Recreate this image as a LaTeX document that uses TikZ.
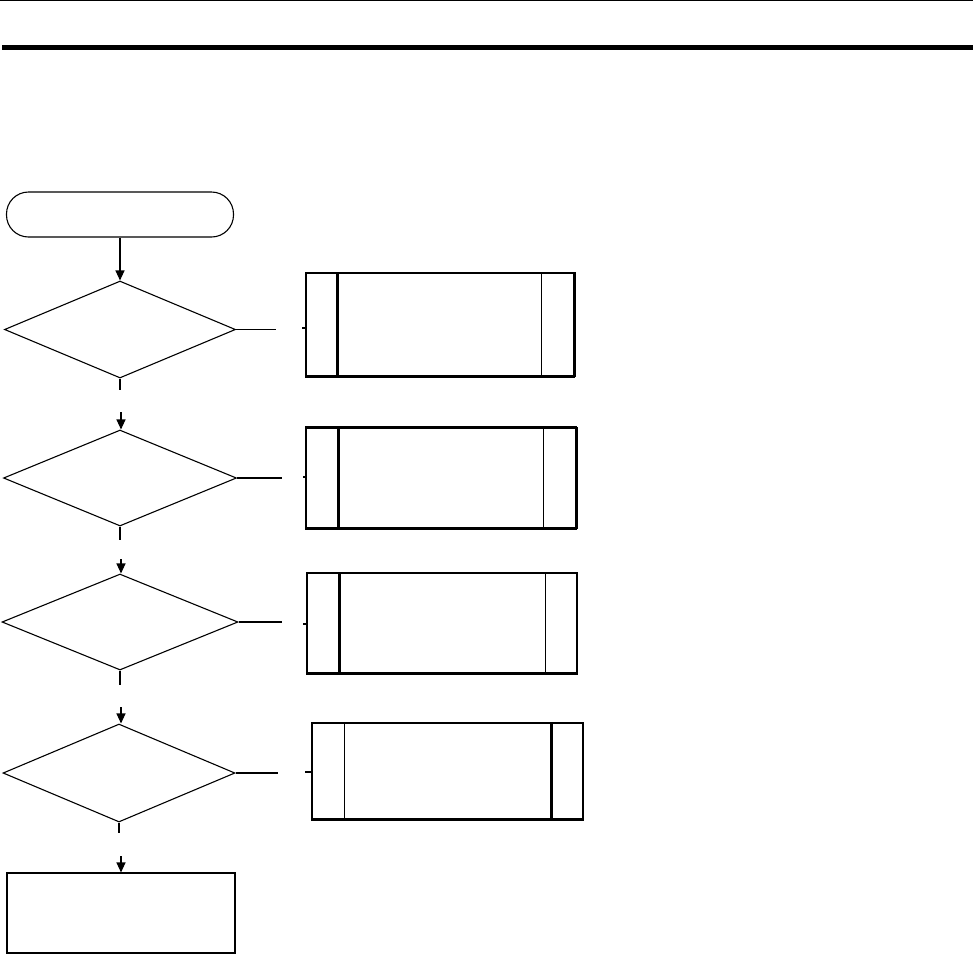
\documentclass[tikz,border=0pt]{standalone}
\usetikzlibrary{shapes.geometric,arrows.meta}
\begin{document}
\begin{tikzpicture}[x=1pt,y=-1pt,
  thin line/.style={line width=1.1pt},
  thick line/.style={line width=2.2pt},
  term/.style={draw,thin line,rounded corners=22pt,inner sep=0pt},
  decision/.style={draw,diamond,thin line,inner sep=0pt},
  procbox/.style={draw,thin line,rectangle,inner sep=0pt},
  link/.style={thin line},
  arrowlink/.style={thin line,-{Triangle[length=10pt,width=9pt]}}
]
\useasboundingbox (0,0) rectangle (973,954);
% header rules
\coordinate (r1a) at (0,0.6);
\coordinate (r1b) at (973,0.6);
\coordinate (r2a) at (2,47.5);
\coordinate (r2b) at (973,47.5);
\draw[line width=1.2pt] (r1a) -- (r1b);
\draw[line width=5pt] (r2a) -- (r2b);

% start terminal
\node[term,minimum width=227pt,minimum height=45pt] (start) at (120,214.5) {};

% decisions
\node[decision,minimum width=231pt,minimum height=97pt] (d1) at (120,329.5) {};
\node[decision,minimum width=233pt,minimum height=96pt] (d2) at (120,478) {};
\node[decision,minimum width=236pt,minimum height=96pt] (d3) at (120,622) {};
\node[decision,minimum width=232pt,minimum height=98pt] (d4) at (119,773) {};

% final box
\node[procbox,minimum width=228pt,minimum height=80pt] (final) at (121,913) {};

% side boxes
\node[procbox,minimum width=268pt,minimum height=103pt] (b1) at (440,324.5) {};
\node[procbox,minimum width=270pt,minimum height=100pt] (b2) at (441,478) {};
\node[procbox,minimum width=270pt,minimum height=100pt] (b3) at (442,623) {};
\node[procbox,minimum width=271pt,minimum height=96pt] (b4) at (447.5,771) {};

% inner lines of boxes and heavy edges
\draw[thick line] ([xshift=32pt]b1.north west) -- ([xshift=32pt]b1.south west);
\draw[thin line] ([xshift=-33pt]b1.north east) -- ([xshift=-33pt]b1.south east);
\draw[thick line] (b1.south west) -- (b1.south east);
\draw[thick line] (b1.north east) -- (b1.south east);

\draw[thick line] ([xshift=33pt]b2.north west) -- ([xshift=33pt]b2.south west);
\draw[thin line] ([xshift=-33pt]b2.north east) -- ([xshift=-33pt]b2.south east);
\draw[thick line] (b2.south west) -- (b2.south east);
\draw[thick line] (b2.north west) -- (b2.north east);
\draw[thick line] (b2.north east) -- (b2.south east);

\draw[thick line] ([xshift=33pt]b3.north west) -- ([xshift=33pt]b3.south west);
\draw[thin line] ([xshift=-32pt]b3.north east) -- ([xshift=-32pt]b3.south east);
\draw[thick line] (b3.south west) -- (b3.south east);

\draw[thin line] ([xshift=33pt]b4.north west) -- ([xshift=33pt]b4.south west);
\draw[thick line] ([xshift=-32pt]b4.north east) -- ([xshift=-32pt]b4.south east);
\draw[thick line] (b4.south west) -- (b4.south east);

% vertical flow
\draw[arrowlink] (start.south) -- (d1.north);

\coordinate (v1a) at (121,390);
\coordinate (v1b) at (121,412);
\draw[link] (d1.south) -- (d1.south |- v1a);
\draw[arrowlink] (v1b) -- (v1b |- d2.north);

\coordinate (v2a) at (121,540);
\coordinate (v2b) at (121,559);
\draw[link] (d2.south) -- (d2.south |- v2a);
\draw[arrowlink] (v2b) -- (v2b |- d3.north);

\coordinate (v3a) at (121,685);
\coordinate (v3b) at (121,707);
\draw[link] (d3.south) -- (d3.south |- v3a);
\draw[arrowlink] (v3b) -- (v3b |- d4.north);

\coordinate (v4a) at (121,833);
\coordinate (v4b) at (121,856);
\draw[link] (d4.south) -- (d4.south |- v4a);
\draw[arrowlink] (v4b) -- (v4b |- final.north);

% side connectors (broken)
\coordinate (h1a) at (276,329);
\coordinate (h1b) at (302,328);
\draw[link] (d1.east) -- (d1.east -| h1a);
\draw[link] (h1b) -- (h1b -| b1.west);

\coordinate (h2a) at (282,477);
\coordinate (h2b) at (303,477);
\draw[link] (d2.east) -- (d2.east -| h2a);
\draw[link] (h2b) -- (h2b -| b2.west);

\coordinate (h3a) at (282,622);
\coordinate (h3b) at (303,624);
\draw[link] (d3.east) -- (d3.east -| h3a);
\draw[link] (h3b) -- (h3b -| b3.west);

\coordinate (h4a) at (278,772);
\coordinate (h4b) at (305,772);
\draw[link] (d4.east) -- (d4.east -| h4a);
\draw[link] (h4b) -- (h4b -| b4.west);
\end{tikzpicture}
\end{document}
